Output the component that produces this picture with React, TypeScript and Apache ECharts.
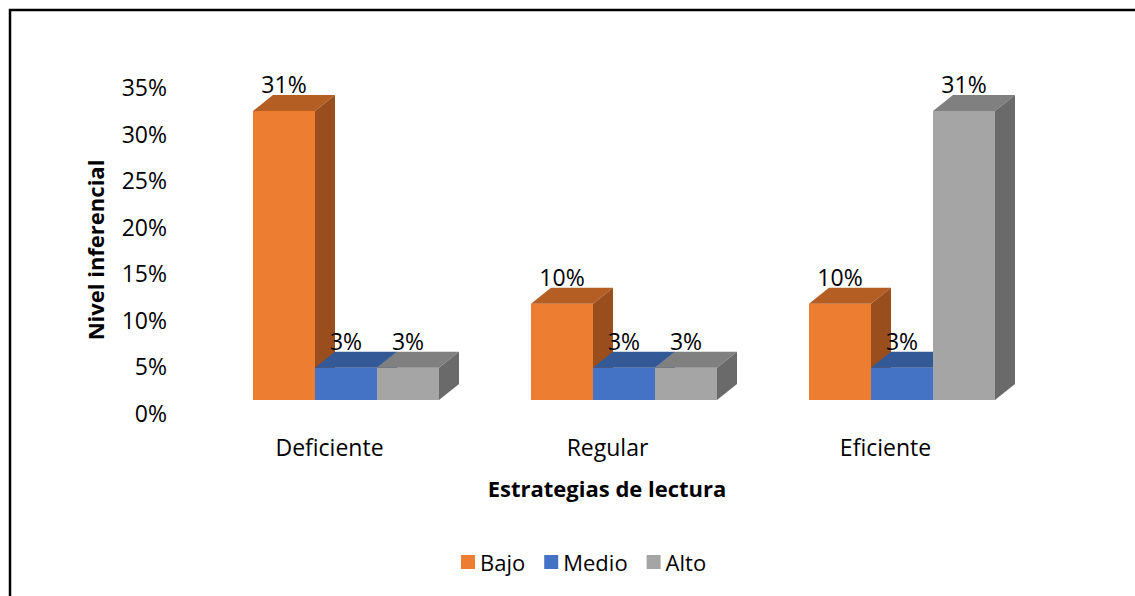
import React, { useEffect, useRef } from "react";
import * as echarts from "echarts";

const categories = ["Deficiente", "Regular", "Eficiente"];
const seriesNames = ["Bajo", "Medio", "Alto"];
const bajo = [31.03, 10.34, 10.34];
const medio = [3.45, 3.45, 3.45];
const alto = [3.45, 3.45, 31.03];
const yMin = 0;
const yMax = 35;
const yInterval = 5;

const FONT = "Open Sans";
const faceColors = [
  { front: "#ED7D31", top: "#B45E24", side: "#9A4E1E" },
  { front: "#4472C4", top: "#335996", side: "#2E4F88" },
  { front: "#A5A5A5", top: "#808080", side: "#6A6A6A" },
];

export default function App() {
  const ref = useRef<HTMLDivElement>(null);
  useEffect(() => {
    if (!ref.current) return;
    const chart = echarts.init(ref.current, null, { renderer: "svg" });
    const DX = 20;
    const DY = 16;
    const SHIFT = 13;
    const renderItem = (params: any, api: any) => {
      const cat = api.value(0);
      const v = api.value(1);
      const base = api.coord([cat, 0]);
      const top = api.coord([cat, v]);
      const band = api.size([1, 0])[0];
      const bw = (band * 62) / 278;
      const si = params.seriesIndex;
      const c = faceColors[si];
      const x0 = base[0] - 1.5 * bw + si * bw;
      const x1 = x0 + bw;
      const yb = base[1] - SHIFT;
      const yt = top[1] - SHIFT;
      return {
        type: "group",
        children: [
          {
            type: "polygon",
            shape: { points: [[x0, yt], [x1, yt], [x1, yb], [x0, yb]] },
            style: { fill: c.front },
          },
          {
            type: "polygon",
            shape: { points: [[x0, yt], [x1, yt], [x1 + DX, yt - DY], [x0 + DX, yt - DY]] },
            style: { fill: c.top },
          },
          {
            type: "polygon",
            shape: { points: [[x1, yt], [x1 + DX, yt - DY], [x1 + DX, yb - DY], [x1, yb]] },
            style: { fill: c.side },
          },
          {
            type: "text",
            x: (x0 + x1) / 2,
            y: yt - DY - 11,
            style: {
              text: Math.round(v) + "%",
              fill: "#000",
              font: `23px "${FONT}"`,
              align: "center",
              verticalAlign: "middle",
            },
          },
        ],
      };
    };
    const allData = [bajo, medio, alto];
    chart.setOption({
      animation: false,
      backgroundColor: "#fff",
      textStyle: { fontFamily: FONT },
      grid: { left: 207, right: 94, top: 87, bottom: 183 },
      legend: {
        left: 456,
        top: 546,
        icon: "rect",
        itemWidth: 14,
        itemHeight: 14,
        itemGap: 19,
        textStyle: { fontSize: 22, color: "#000", fontFamily: FONT },
        data: seriesNames,
      },
      xAxis: {
        type: "category",
        data: categories,
        axisLine: { show: false },
        axisTick: { show: false },
        axisLabel: {
          fontSize: 23,
          color: "#000",
          margin: 22,
          lineHeight: 24,
          padding: [0, 33, 0, 0],
        },
        name: "Estrategias de lectura",
        nameLocation: "middle",
        nameGap: 64,
        nameTextStyle: {
          fontSize: 22,
          fontWeight: "bold",
          color: "#000",
          padding: [0, 34, 0, 0],
        },
      },
      yAxis: {
        type: "value",
        min: yMin,
        max: yMax,
        interval: yInterval,
        axisLine: { show: false },
        axisTick: { show: false },
        splitLine: { show: false },
        axisLabel: { fontSize: 23, color: "#000", margin: 40, formatter: "{value}%" },
        name: "Nivel inferencial",
        nameLocation: "middle",
        nameRotate: 90,
        nameGap: 95,
        nameTextStyle: { fontSize: 22, fontWeight: "bold", color: "#000", padding: [0, 0, 6, 0] },
      },
      graphic: [
        {
          type: "polyline",
          shape: { points: [[10, 596], [10, 10], [1135, 10]] },
          style: { stroke: "#000", lineWidth: 2.5, fill: null },
        },
      ],
      series: seriesNames.map((name, i) => ({
        name,
        type: "custom",
        renderItem,
        itemStyle: { color: faceColors[i].front },
        encode: { x: 0, y: 1 },
        data: allData[i].map((v, j) => [j, v]),
      })),
    });
    return () => chart.dispose();
  }, []);
  return (
    <div
      ref={ref}
      style={{ position: "fixed", left: 0, top: 0, width: 1135, height: 596 }}
    />
  );
}
